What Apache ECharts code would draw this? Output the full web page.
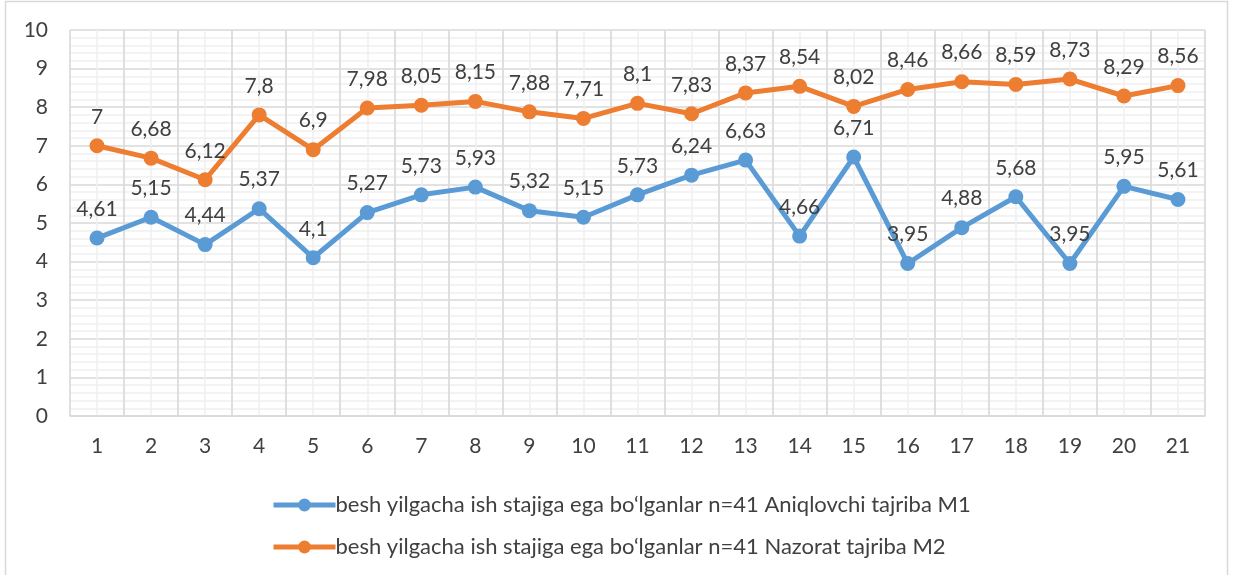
<!DOCTYPE html>
<html>
<head>
<meta charset="utf-8">
<script src="https://cdn.jsdelivr.net/npm/echarts@6/dist/echarts.min.js"></script>
<style>
  html, body { margin: 0; padding: 0; background: #fff; }
  #chart { width: 1233px; height: 575px; }
</style>
</head>
<body>
<div id="chart"></div>
<script>
    var categories = ['1','2','3','4','5','6','7','8','9','10','11','12','13','14','15','16','17','18','19','20','21'];
    var nameM1 = 'besh yilgacha ish stajiga ega bo\u2018lganlar n=41 Aniqlovchi tajriba M1';
    var nameM2 = 'besh yilgacha ish stajiga ega bo\u2018lganlar n=41 Nazorat tajriba M2';
    var valuesM1 = [4.61, 5.15, 4.44, 5.37, 4.1, 5.27, 5.73, 5.93, 5.32, 5.15, 5.73, 6.24, 6.63, 4.66, 6.71, 3.95, 4.88, 5.68, 3.95, 5.95, 5.61];
    var valuesM2 = [7, 6.68, 6.12, 7.8, 6.9, 7.98, 8.05, 8.15, 7.88, 7.71, 8.1, 7.83, 8.37, 8.54, 8.02, 8.46, 8.66, 8.59, 8.73, 8.29, 8.56];

    var font = 'Lato';
    var textColor = '#404040';

    function comma(p) {
        return String(p.value).replace('.', ',');
    }

    var chart = echarts.init(document.getElementById('chart'), null, {
        renderer: 'canvas'
    });
    chart.setOption({
        animation: false,
        textStyle: { fontFamily: font },
        graphic: [
            {
                type: 'rect',
                shape: { x: 5.5, y: 1.5, width: 1222, height: 580 },
                style: { fill: 'none', stroke: '#d9d9d9', lineWidth: 1.5 },
                silent: true
            }
        ],
        grid: { left: 70, right: 28, top: 30, bottom: 159 },
        legend: {
            orient: 'vertical',
            left: 266,
            top: 489,
            itemWidth: 62,
            itemHeight: 16,
            itemGap: 20,
            lineStyle: { width: 5 },
            textStyle: { fontSize: 22, color: textColor, fontFamily: font, padding: [0, 0, 0, -5] },
            data: [nameM1, nameM2]
        },
        xAxis: [
            {
                type: 'category',
                data: categories,
                boundaryGap: true,
                axisTick: { show: false },
                axisLine: { lineStyle: { color: '#d9d9d9', width: 1.5 } },
                axisLabel: { fontSize: 21, color: textColor, margin: 20 },
                splitLine: { show: true, lineStyle: { color: '#d9d9d9', width: 1.5 } },
                z: 3
            },
            {
                // lighter minor vertical gridlines through category centres
                type: 'value',
                min: 0,
                max: 42,
                interval: 1,
                show: true,
                axisLine: { show: false },
                axisTick: { show: false },
                axisLabel: { show: false },
                splitLine: { show: true, lineStyle: { color: '#efefef', width: 1.5 } },
                z: 1
            }
        ],
        yAxis: {
            type: 'value',
            min: 0,
            max: 10,
            interval: 1,
            axisLine: { show: false },
            axisTick: { show: false },
            axisLabel: { fontSize: 21, color: textColor, margin: 22 },
            splitLine: { lineStyle: { color: '#d9d9d9', width: 1.5 } },
            minorTick: { show: false, splitNumber: 5 },
            minorSplitLine: { show: true, lineStyle: { color: '#efefef', width: 1.5 } }
        },
        series: [
            {
                name: nameM1,
                type: 'line',
                data: valuesM1,
                color: '#5B9BD5',
                symbol: 'circle',
                symbolSize: 15,
                lineStyle: { width: 5 },
                label: { show: true, position: 'top', distance: 11, fontSize: 21, color: textColor, formatter: comma },
                z: 5
            },
            {
                name: nameM2,
                type: 'line',
                data: valuesM2,
                color: '#ED7D31',
                symbol: 'circle',
                symbolSize: 15,
                lineStyle: { width: 5 },
                label: { show: true, position: 'top', distance: 11, fontSize: 21, color: textColor, formatter: comma },
                z: 5
            }
        ]
    });
</script>
</body>
</html>
